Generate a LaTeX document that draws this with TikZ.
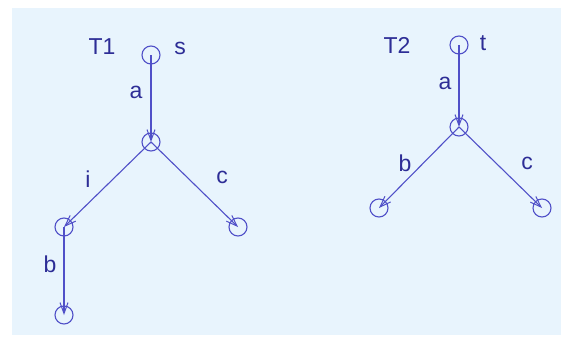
\documentclass[tikz,border=0pt]{standalone}
\usepackage{fontspec}
\setmainfont{Liberation Sans}
\usetikzlibrary{arrows.meta}
\definecolor{bgblue}{RGB}{232,244,253}
\definecolor{edgeblue}{RGB}{80,80,200}
\definecolor{txtblue}{RGB}{45,45,150}
\begin{document}
\begin{tikzpicture}[x=1pt,y=-1pt,
  state/.style={circle,draw=edgeblue,line width=1.1pt,minimum size=18pt,inner sep=0pt},
  lbl/.style={text=txtblue,font=\fontsize{23}{26}\selectfont,inner sep=0pt},
  edge/.style={draw=edgeblue,line width=1.1pt,-{Straight Barb[length=11pt,width=8pt,line width=1pt]}}]
\fill[white] (0,0) rectangle (561,337);
\fill[bgblue] (12,8) rectangle (561,335);
\useasboundingbox (0,0) rectangle (561,337);
% T1
\node[state] (s) at (151,55) {};
\node[state] (m1) at (151,142) {};
\node[state] (l1) at (64,227) {};
\node[state] (r1) at (238,227) {};
\node[state] (b1) at (64,315) {};
\node[lbl] (T1) at (102,47) {T1};
\node[lbl] (ls) at (180,48) {s};
\node[lbl] (la1) at (136,92) {a};
\node[lbl] (li) at (88,179) {i};
\node[lbl] (lc1) at (222,177) {c};
\node[lbl] (lb1) at (50,264) {b};
\draw[edge] (s.center) -- (m1.center);
\draw[edge] (m1.center) -- (l1.center);
\draw[edge] (m1.center) -- (r1.center);
\draw[edge] (l1.center) -- (b1.center);
% T2
\node[state] (t) at (459,45) {};
\node[state] (m2) at (459,127) {};
\node[state] (l2) at (379,208) {};
\node[state] (r2) at (542,208) {};
\node[lbl] (T2) at (397,45) {T2};
\node[lbl] (lt) at (483,43) {t};
\node[lbl] (la2) at (445,83) {a};
\node[lbl] (lb2) at (405,163) {b};
\node[lbl] (lc2) at (527,163) {c};
\draw[edge] (t.center) -- (m2.center);
\draw[edge] (m2.center) -- (l2.center);
\draw[edge] (m2.center) -- (r2.center);
\end{tikzpicture}
\end{document}
